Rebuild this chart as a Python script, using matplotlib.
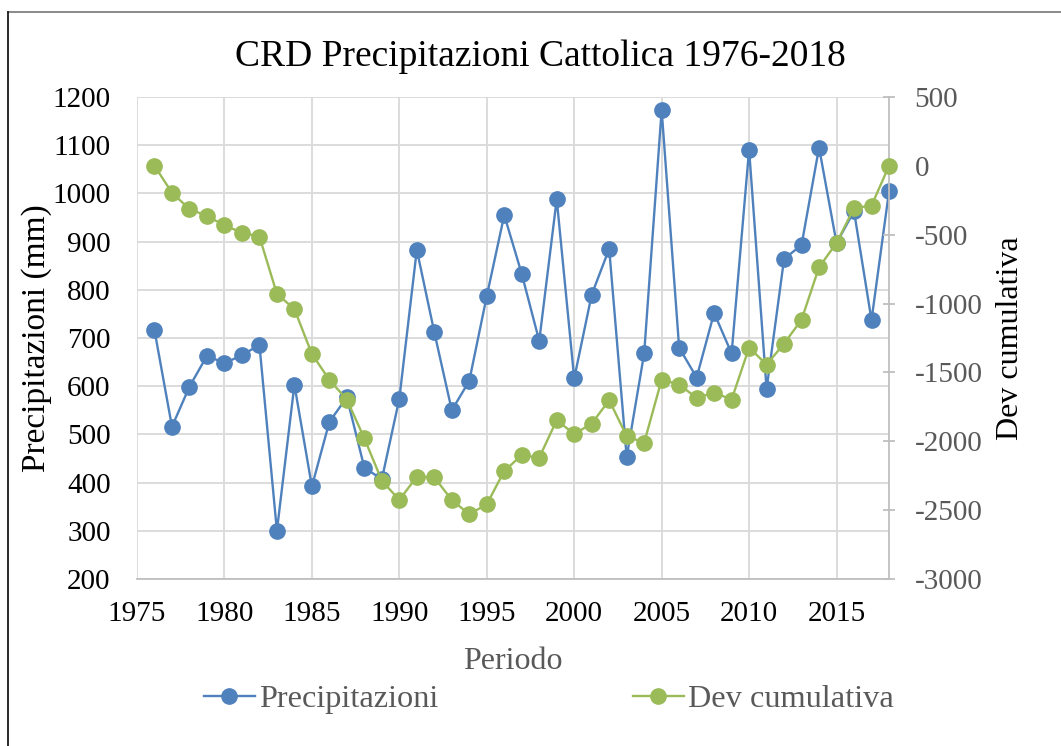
import matplotlib
matplotlib.use("Agg")
import matplotlib.pyplot as plt
from matplotlib.lines import Line2D

years = list(range(1976, 2019))
precip = [716, 516, 599, 663, 648, 664, 686, 300, 603, 392,
          526, 577, 431, 407, 574, 883, 712, 550, 611, 787,
          955, 833, 694, 988, 616, 790, 885, 453, 668, 1173,
          680, 618, 752, 668, 1091, 594, 864, 893, 1095, 897,
          963, 737, 1004]
dev_cum = [0, -195, -314, -364, -432, -485, -514, -929, -1040, -1366,
           -1554, -1697, -1979, -2286, -2426, -2257, -2262, -2426, -2530, -2457,
           -2216, -2100, -2119, -1846, -1948, -1871, -1702, -1962, -2011, -1552,
           -1588, -1685, -1646, -1697, -1320, -1443, -1291, -1117, -736, -560,
           -306, -289, 0]
title = "CRD Precipitazioni Cattolica 1976-2018"
x_ticks = [1975, 1980, 1985, 1990, 1995, 2000, 2005, 2010, 2015]
left_ticks = list(range(200, 1201, 100))
right_ticks = list(range(-3000, 501, 500))

plt.rcParams['font.family'] = ['Liberation Serif', 'DejaVu Serif']
plt.rcParams['axes.unicode_minus'] = False

W, H = 1061, 746
fig = plt.figure(figsize=(W / 100, H / 100), dpi=100)

# outer chart border (top gray, left dark)
fig.add_artist(Line2D([8 / W, 1.0], [1 - 12 / H, 1 - 12 / H], transform=fig.transFigure,
                      color='#808080', lw=1.3))
fig.add_artist(Line2D([8 / W, 8 / W], [0, 1 - 12 / H], transform=fig.transFigure,
                      color='#1a1a1a', lw=1.3))

ax = fig.add_axes([137 / W, 1 - 579 / H, (889 - 137) / W, (579 - 97) / H])
ax2 = ax.twinx()

blue = '#4F81BD'
green = '#9BBB59'
grid = '#D9D9D9'
axisc = '#BFBFBF'
gray_txt = '#595959'

ax.plot(years, precip, color=blue, lw=1.7, marker='o', ms=11, zorder=3, clip_on=False)
ax2.plot(years, dev_cum, color=green, lw=1.7, marker='o', ms=11, zorder=3, clip_on=False)

ax.set_xlim(1975, 2018)
ax.set_ylim(200, 1200)
ax2.set_ylim(-3000, 500)
ax.set_xticks(x_ticks)
ax.set_yticks(left_ticks)
ax2.set_yticks(right_ticks)
ax.grid(True, color=grid, lw=1.3)
ax.set_axisbelow(True)

for a in (ax, ax2):
    for s in a.spines.values():
        s.set_visible(False)
ax.spines['bottom'].set_visible(True)
ax.spines['bottom'].set_color(axisc)
ax.spines['bottom'].set_linewidth(1.3)
ax2.spines['right'].set_visible(True)
ax2.spines['right'].set_color(axisc)
ax2.spines['right'].set_linewidth(1.3)

ax.tick_params(axis='both', length=0, labelsize=21, labelcolor='#000000')
ax.tick_params(axis='y', pad=19)
ax.tick_params(axis='x', pad=16)
ax2.tick_params(axis='y', length=8.6, color=axisc, width=1.3, direction='inout',
                labelsize=21, pad=14, labelcolor=gray_txt)

ax.set_ylabel("Precipitazioni (mm)", fontsize=24, labelpad=0.5)
ax2.set_ylabel("Dev cumulativa", fontsize=23, labelpad=10)
ax.set_xlabel("Periodo", fontsize=23, color=gray_txt, labelpad=14)

fig.text(540 / W, 1 - 57 / H, title, ha='center', va='center', fontsize=27)

h1 = ax.lines[0]
h2 = ax2.lines[0]
leg = fig.legend([h1, h2], ["Precipitazioni", "Dev cumulativa"], ncol=2,
                 loc='center', bbox_to_anchor=(549 / W, 1 - 699 / H), frameon=False,
                 fontsize=23.3, handlelength=1.57, handletextpad=0.15, columnspacing=6.0,
                 labelcolor=gray_txt, borderpad=0)

fig.savefig("out.png", dpi=100)
